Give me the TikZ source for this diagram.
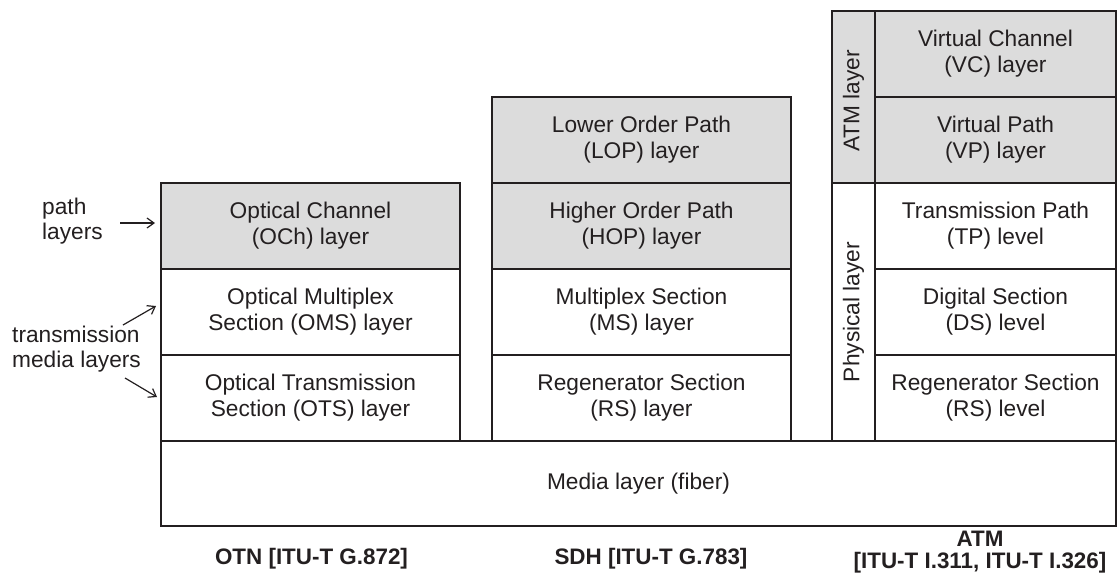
\documentclass[tikz,border=0pt]{standalone}
\usepackage{fontspec}
\setmainfont{Liberation Sans}
\usetikzlibrary{arrows.meta}

\definecolor{cellgray}{RGB}{220,220,220}
\definecolor{edge}{RGB}{35,31,32}

\tikzset{
  cell/.style={draw=edge, line width=1.4pt, inner sep=0pt, outer sep=0pt,
               align=center, text=edge,
               font=\fontsize{22.7}{26}\selectfont},
  pathcell/.style={cell, fill=cellgray},
  plaincell/.style={cell, fill=white},
  wide/.style={minimum width=299pt, minimum height=86pt},
  atmcell/.style={minimum width=241pt, minimum height=86pt},
  sidelabel/.style={align=left, inner sep=0pt, text=edge,
               font=\fontsize{22.7}{25}\selectfont},
  caption/.style={align=center, inner sep=0pt, text=edge,
               font=\bfseries\fontsize{22.4}{22}\selectfont},
  pointer/.style={draw=edge, line width=1.2pt, -{Straight Barb[length=7pt,width=10pt]}}
}

\begin{document}
\begin{tikzpicture}[x=1pt, y=-1pt]
\useasboundingbox (0,0) rectangle (1117,574);

% media layer spanning all three stacks
\node[plaincell, minimum width=955pt, minimum height=85pt] (media) at (638.5,483.5) {Media layer (fiber)};

% OTN stack
\node[pathcell, wide]  (och) at (310.5,226) {Optical Channel\\(OCh) layer};
\node[plaincell, wide] (oms) at (310.5,312) {Optical Multiplex\\Section (OMS) layer};
\node[plaincell, wide] (ots) at (310.5,398) {Optical Transmission\\Section (OTS) layer};

% SDH stack
\node[pathcell, wide]  (lop) at (641.5,140) {Lower Order Path\\(LOP) layer};
\node[pathcell, wide]  (hop) at (641.5,226) {Higher Order Path\\(HOP) layer};
\node[plaincell, wide] (ms)  at (641.5,312) {Multiplex Section\\(MS) layer};
\node[plaincell, wide] (rs)  at (641.5,398) {Regenerator Section\\(RS) layer};

% ATM stack
\node[pathcell, atmcell]  (vc)  at (995.5,54)  {Virtual Channel\\(VC) layer};
\node[pathcell, atmcell]  (vp)  at (995.5,140) {Virtual Path\\(VP) layer};
\node[plaincell, atmcell] (tp)  at (995.5,226) {Transmission Path\\(TP) level};
\node[plaincell, atmcell] (ds)  at (995.5,312) {Digital Section\\(DS) level};
\node[plaincell, atmcell] (rsl) at (995.5,398) {Regenerator Section\\(RS) level};

% grouping bars of the ATM stack
\node[pathcell, minimum width=43pt, minimum height=172pt] (atmbar) at (853.5,97) {};
\node[rotate=90, sidelabel] (atmtxt) at ([yshift=-4pt]atmbar.center) {ATM layer};
\node[plaincell, minimum width=43pt, minimum height=258pt] (phybar) at (853.5,312) {};
\node[rotate=90, sidelabel] (phytxt) at (phybar.center) {Physical layer};

% labels on the left with their pointers
\node[sidelabel, anchor=west] (pathlbl) at (42,221) {path\\layers};
\node[sidelabel, anchor=west] (medialbl) at (12,349) {transmission\\media layers};

\coordinate (ptail) at (120,223);
\coordinate (phead) at (155,223);
\coordinate (mtailA) at (123,325);
\coordinate (mheadA) at (156,306);
\coordinate (mtailB) at (125,378);
\coordinate (mheadB) at (157,397);
\draw[pointer] (ptail) -- (phead);
\draw[pointer] (mtailA) -- (mheadA);
\draw[pointer] (mtailB) -- (mheadB);

% captions under each stack
\node[caption] (otncap) at (311.5,559) {OTN {[}ITU-T G.872{]}};
\node[caption] (sdhcap) at (651,559) {SDH {[}ITU-T G.783{]}};
\node[caption] (atmcap) at (980,552) {ATM\\{[}ITU-T I.311, ITU-T I.326{]}};
\end{tikzpicture}
\end{document}
